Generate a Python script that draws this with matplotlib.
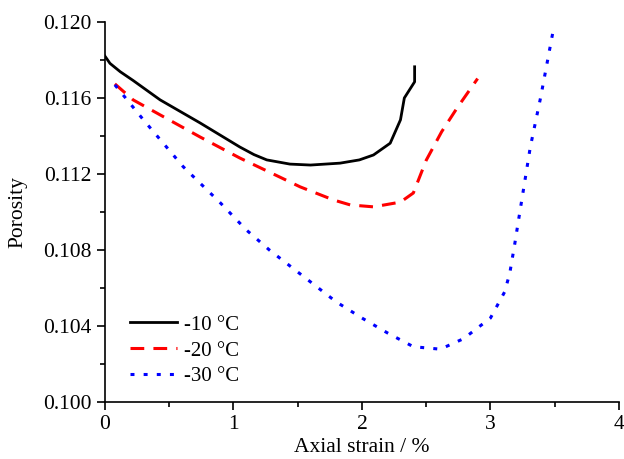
import matplotlib
matplotlib.use("Agg")
import matplotlib.pyplot as plt
from matplotlib.ticker import MultipleLocator, FormatStrFormatter

strain_10 = [0.0, 0.04, 0.12, 0.22, 0.43, 0.74, 1.05, 1.16, 1.26, 1.44, 1.60, 1.83, 1.98, 2.09, 2.22, 2.30, 2.33, 2.41, 2.41]
poro_10 = [0.11819, 0.11780, 0.11736, 0.11690, 0.11588, 0.11467, 0.11340, 0.11300, 0.11272, 0.11250, 0.11245, 0.11255, 0.11272, 0.11298, 0.11360, 0.11483, 0.11598, 0.11683, 0.11762]

strain_20 = [0.078, 0.22, 0.43, 0.74, 1.05, 1.36, 1.52, 1.78, 1.91, 2.09, 2.30, 2.40, 2.50, 2.62, 2.74, 2.90]
poro_20 = [0.11672, 0.11588, 0.11509, 0.11393, 0.11282, 0.11182, 0.11130, 0.11061, 0.11035, 0.11025, 0.11050, 0.11098, 0.11270, 0.11420, 0.11545, 0.11700]

strain_30 = [0.078, 0.30, 0.61, 0.90, 1.10, 1.28, 1.60, 1.80, 2.00, 2.20, 2.40, 2.61, 2.79, 3.00, 3.11, 3.15, 3.19, 3.21, 3.31, 3.39, 3.49]
poro_30 = [0.11667, 0.11483, 0.11236, 0.11045, 0.10904, 0.10798, 0.10630, 0.10525, 0.10440, 0.10361, 0.10289, 0.10276, 0.10331, 0.10440, 0.10577, 0.10675, 0.10834, 0.10920, 0.11340, 0.11600, 0.11960]

labels = ["-10 \u00b0C", "-20 \u00b0C", "-30 \u00b0C"]

plt.rcParams['font.family'] = ['Liberation Serif', 'DejaVu Serif']

fig = plt.figure(figsize=(6.24, 4.59), dpi=100)
ax = fig.add_axes([0.168, 0.125, 0.824, 0.828])

ax.plot(strain_10, poro_10, color='black', lw=2.0, label=labels[0])
ax.plot(strain_20, poro_20, color='#ff0000', lw=2.2, dashes=[4.5, 3.0], label=labels[1])
ax.plot(strain_30, poro_30, color='#0000ff', lw=2.2, dashes=[1.3, 3.0], label=labels[2])

ax.set_xlim(0, 4)
ax.set_ylim(0.100, 0.120)
ax.xaxis.set_major_locator(MultipleLocator(1))
ax.xaxis.set_minor_locator(MultipleLocator(0.5))
ax.yaxis.set_major_locator(MultipleLocator(0.004))
ax.yaxis.set_minor_locator(MultipleLocator(0.002))
ax.yaxis.set_major_formatter(FormatStrFormatter('%.3f'))

for s in ['top', 'right']:
    ax.spines[s].set_visible(False)
for s in ['left', 'bottom']:
    ax.spines[s].set_linewidth(1.2)
ax.tick_params(which='major', direction='out', length=6, width=1.2, labelsize=15.5)
ax.tick_params(which='minor', direction='out', length=3.5, width=1.2)

ax.set_xlabel('Axial strain / %', fontsize=15.5, labelpad=3)
ax.set_ylabel('Porosity', fontsize=15.5, labelpad=11)

ax.legend(loc='lower left', bbox_to_anchor=(0.032, 0.018), borderaxespad=0, frameon=False,
          fontsize=15, handlelength=2.26, handletextpad=0.35, labelspacing=0.3)

fig.savefig('out.png', dpi=100)
